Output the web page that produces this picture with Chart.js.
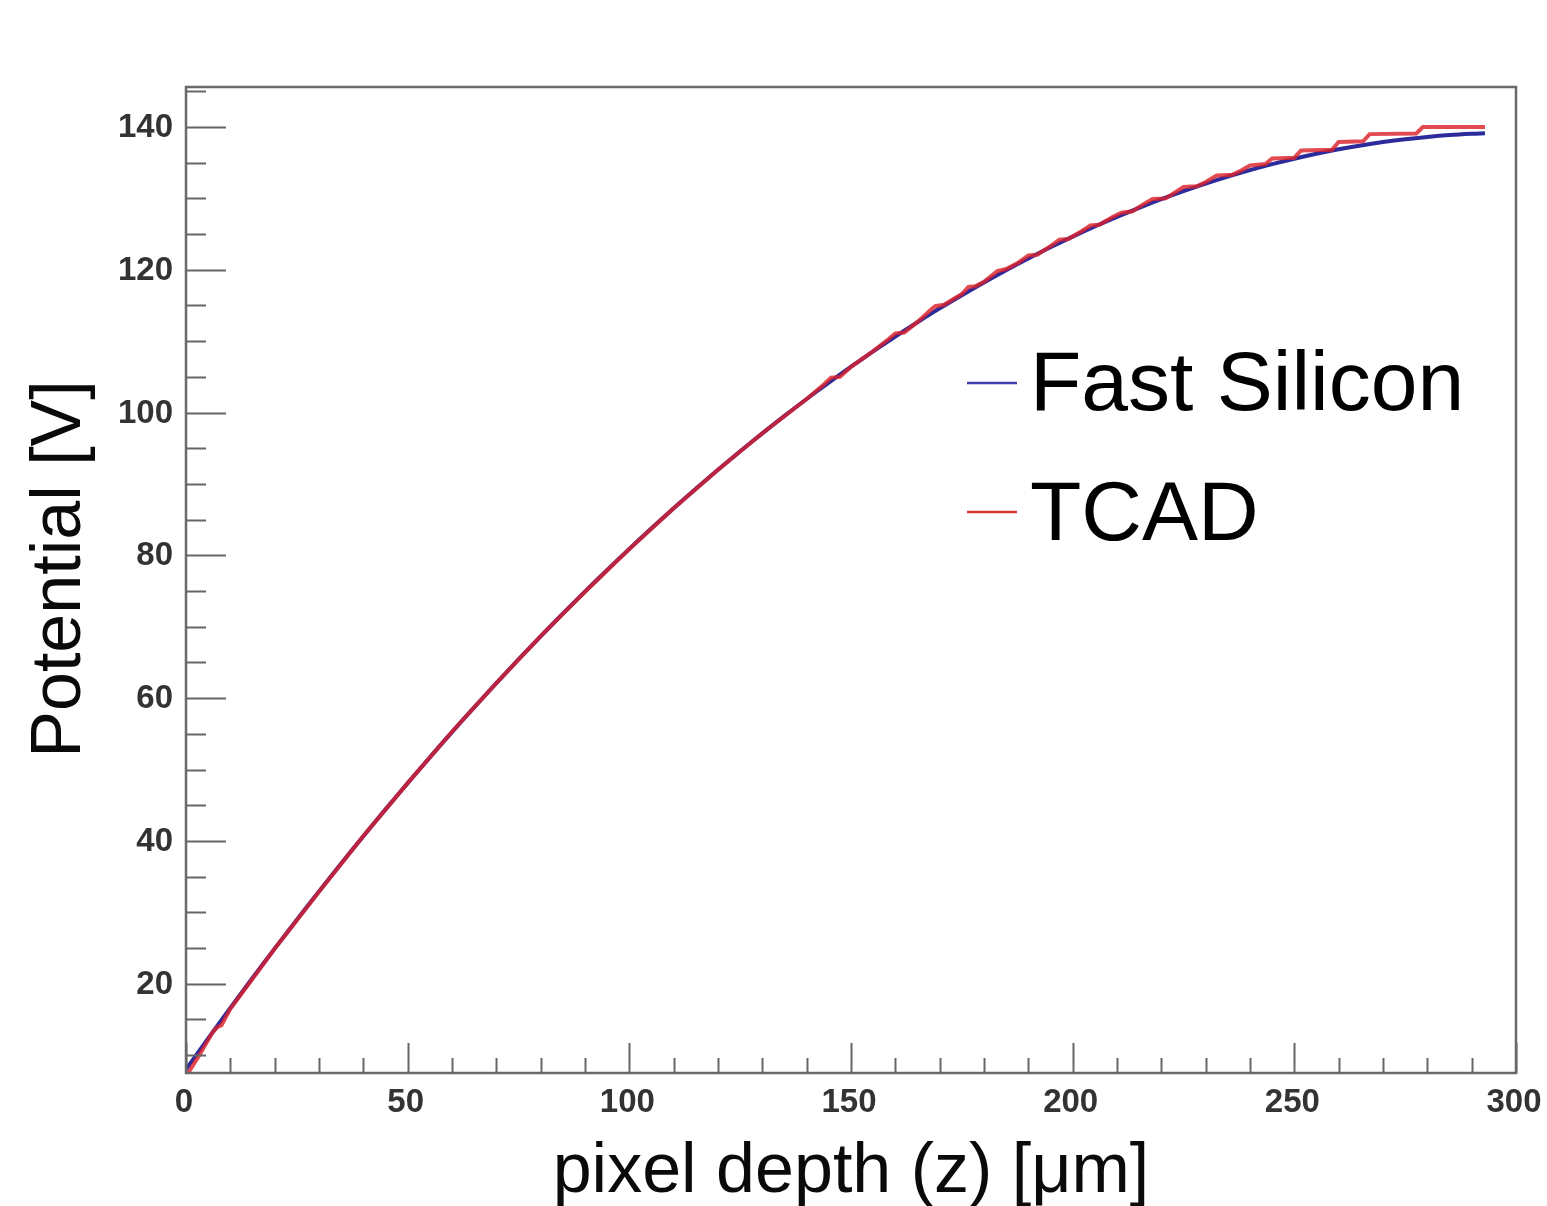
<!DOCTYPE html>
<html>
<head>
<meta charset="utf-8">
<script src="https://cdn.jsdelivr.net/npm/chart.js@4/dist/chart.umd.min.js"></script>
<style>
html,body{margin:0;padding:0;background:#fff;}
#wrap{width:1547px;height:1206px;position:relative;}
</style>
</head>
<body>
<div id="wrap"><canvas id="c" width="1547" height="1206"></canvas></div>
<script>
// ---- data ----
const seriesLabels = ["Fast Silicon", "TCAD"];
const zFast = [0,5,10,15,20,25,30,35,40,45,50,55,60,65,70,75,80,85,90,95,100,105,110,115,120,125,130,135,140,145,150,155,160,165,170,175,180,185,190,195,200,205,210,215,220,225,230,235,240,245,250,255,260,265,270,275,280,285,290,293];
const vFast = [8.00,12.34,16.60,20.80,24.92,28.96,32.94,36.84,40.67,44.42,48.10,51.71,55.25,58.71,62.10,65.42,68.66,71.83,74.93,77.96,80.91,83.79,86.60,89.33,91.99,94.58,97.09,99.54,101.90,104.20,106.42,108.57,110.65,112.65,114.59,116.44,118.23,119.94,121.58,123.15,124.64,126.06,127.41,128.68,129.88,131.01,132.07,133.05,133.96,134.80,135.56,136.25,136.87,137.42,137.89,138.29,138.61,138.87,139.05,139.12];
const zTcad = [0,3,6,7,8,10,20,30,40,50,60,70,80,90,100,110,120,130,140,144,145.5,147.5,150,155,158.5,160,162,165,168,169,171,175,176.5,178,180,183,185,187.5,190,192,195,197,199,202,204,206,209,211,213.5,216,218,221,223,225,228,230,232.5,236,238,240,243.5,245,250,251.5,258.5,260,265.5,267,277.5,279,293];
const vTcad = [7.0,10.0,13.2,13.9,14.2,16.5,24.9,32.9,40.7,48.1,55.3,62.1,68.7,74.9,80.9,86.6,92.0,97.1,101.9,104.0,104.9,105.0,106.4,108.6,110.3,111.1,111.2,112.7,114.4,114.9,115.1,116.6,117.6,117.7,118.3,119.8,120.1,120.9,122.0,122.1,123.3,124.2,124.3,125.4,126.2,126.3,127.4,128.0,128.2,129.2,129.9,130.0,130.8,131.6,131.7,132.3,133.2,133.3,133.9,134.6,134.8,135.6,135.7,136.7,136.8,137.9,138.0,139.0,139.1,140.0,140.0];
const xTickLabels = [0,50,100,150,200,250,300];
const yTickLabels = [20,40,60,80,100,120,140];
const xTitle = "pixel depth (z) [\u03bcm]";
const yTitle = "Potential [V]";

const toXY = (xs, ys) => xs.map((x, i) => ({x: x, y: ys[i]}));

const FONT = "'Liberation Sans', Arial, Helvetica, sans-serif";

const decor = {
  id: 'decor',
  afterDraw(chart) {
    const ctx = chart.ctx;
    const xs = chart.scales.x, ys = chart.scales.y;
    const a = chart.chartArea;
    ctx.save();
    // frame
    ctx.strokeStyle = '#6a6a6a';
    ctx.lineWidth = 2.5;
    ctx.strokeRect(a.left, a.top, a.right - a.left, a.bottom - a.top);
    // y ticks (inward)
    ctx.lineWidth = 2;
    ctx.strokeStyle = '#666';
    for (let v = 10; v <= 145; v += 5) {
      const p = Math.round(ys.getPixelForValue(v)) + 0.5;
      const len = (v % 20 === 0) ? 40 : 20;
      ctx.beginPath(); ctx.moveTo(a.left, p); ctx.lineTo(a.left + len, p); ctx.stroke();
    }
    // x ticks (inward)
    for (let v = 0; v <= 300; v += 10) {
      const p = Math.round(xs.getPixelForValue(v)) + 0.5;
      const len = (v % 50 === 0) ? 30 : 15;
      ctx.beginPath(); ctx.moveTo(p, a.bottom); ctx.lineTo(p, a.bottom - len); ctx.stroke();
    }
    // tick labels
    ctx.fillStyle = '#333';
    ctx.font = 'bold 33px ' + FONT;
    ctx.textAlign = 'right'; ctx.textBaseline = 'middle';
    yTickLabels.forEach(v => ctx.fillText(String(v), a.left - 13, ys.getPixelForValue(v) + 1));
    ctx.textAlign = 'center'; ctx.textBaseline = 'middle';
    xTickLabels.forEach(v => ctx.fillText(String(v), xs.getPixelForValue(v) - 2, a.bottom + 30));
    // axis titles
    ctx.fillStyle = '#0a0a0a';
    ctx.font = '70px ' + FONT;
    ctx.textAlign = 'center'; ctx.textBaseline = 'alphabetic';
    ctx.fillText(xTitle, 851, 1192);
    ctx.save();
    ctx.translate(80, 569);
    ctx.rotate(-Math.PI / 2);
    ctx.fillText(yTitle, 0, 0);
    ctx.restore();
    // legend
    const ds = chart.data.datasets;
    const rows = [{y: 383, base: 410}, {y: 512, base: 540}];
    ctx.font = '84px ' + FONT;
    ctx.textAlign = 'left';
    ctx.fillStyle = '#000';
    ds.forEach((d, i) => {
      const r = rows[i];
      ctx.strokeStyle = d.legendColor;
      ctx.lineWidth = 2.5;
      ctx.beginPath(); ctx.moveTo(967, r.y); ctx.lineTo(1017, r.y); ctx.stroke();
      ctx.fillText(d.label, 1030, r.base);
    });
    ctx.restore();
  }
};

new Chart(document.getElementById('c'), {
  type: 'line',
  data: {
    datasets: [
      {label: seriesLabels[0], data: toXY(zFast, vFast), borderColor: '#2b2b9c', legendColor: '#4040b0', borderWidth: 4, pointRadius: 0, tension: 0.3, order: 2},
      {label: seriesLabels[1], data: toXY(zTcad, vTcad), borderColor: 'rgba(220,34,44,0.82)', legendColor: '#d83434', borderWidth: 4, pointRadius: 0, tension: 0, order: 1}
    ]
  },
  options: {
    responsive: false,
    animation: false,
    layout: {padding: {left: 0, top: 87, right: 31, bottom: 0}},
    plugins: {legend: {display: false}, tooltip: {enabled: false}},
    scales: {
      x: {type: 'linear', min: 0, max: 300,
          grid: {display: false}, border: {display: false},
          ticks: {display: false},
          afterFit(s) { s.height = 133; }},
      y: {type: 'linear', min: 7.5, max: 145.6,
          grid: {display: false}, border: {display: false},
          ticks: {display: false},
          afterFit(s) { s.width = 186; }}
    }
  },
  plugins: [decor]
});
</script>
</body>
</html>
